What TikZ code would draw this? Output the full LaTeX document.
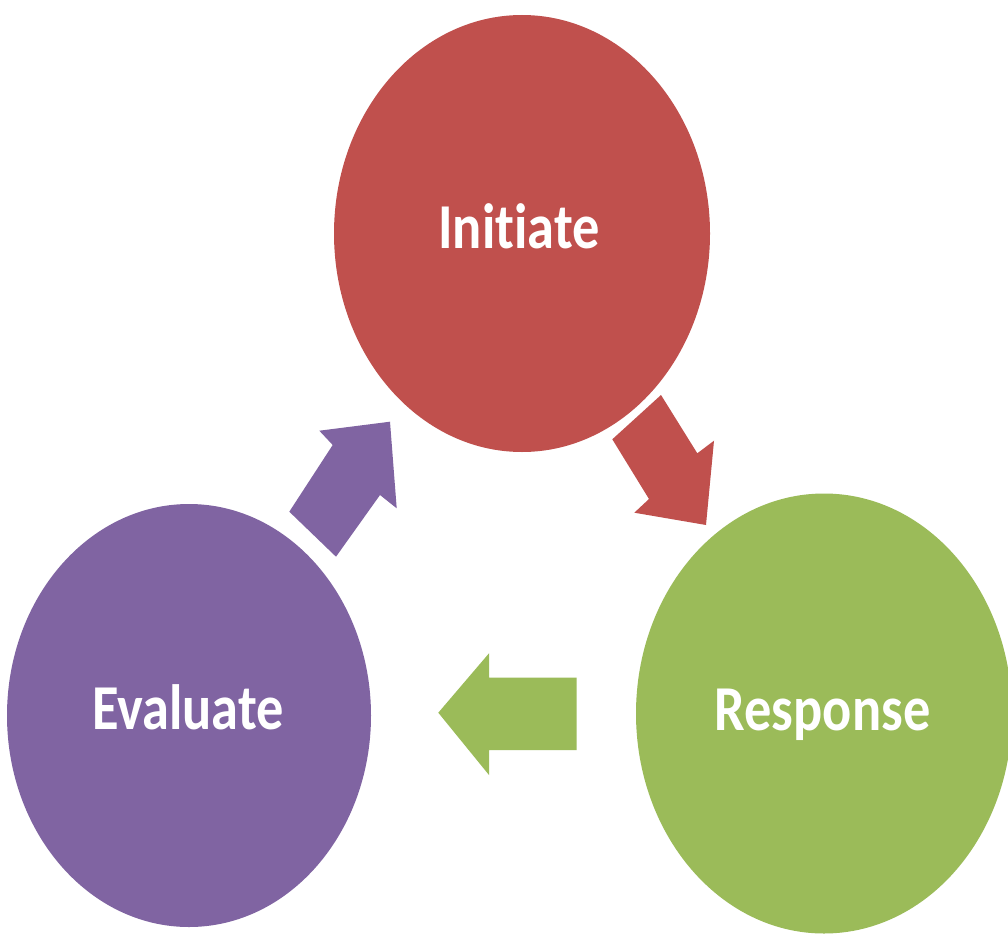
\documentclass[tikz,border=0pt]{standalone}
\usepackage{fontspec}
\usepackage{graphicx}
\setmainfont{Carlito}[Ligatures=CommonOff]
\usetikzlibrary{shapes.geometric}
\definecolor{cred}{HTML}{C0504D}
\definecolor{cpurple}{HTML}{8064A2}
\definecolor{cgreen}{HTML}{9BBB59}
\tikzset{
  blob/.style={ellipse, inner sep=0pt, draw=none},
  lbl/.style={text=white, font=\fontsize{64}{70}\selectfont\bfseries, inner sep=0pt, anchor=base},
}
\newcommand{\squeeze}[1]{\scalebox{0.85}[1]{#1}}
\begin{document}
\begin{tikzpicture}[x=1pt,y=-1pt]
\useasboundingbox (0,0) rectangle (1008,936);
\fill[white] (0,0) rectangle (1008,936);
% circles
\node[blob, fill=cred, minimum width=376pt, minimum height=437pt] (init) at (522,233.5) {};
\node[blob, fill=cpurple, minimum width=364pt, minimum height=423pt] (eval) at (189,715.5) {};
\node[blob, fill=cgreen, minimum width=376pt, minimum height=440pt] (resp) at (824,713.5) {};
% labels
\node[lbl] (tinit) at (519,248) {\squeeze{Initiate}};
\node[lbl] (teval) at (188,729) {\squeeze{Evaluate}};
\node[lbl] (tresp) at (822.5,730) {\squeeze{Response}};
% block arrows
\fill[cred] (612.3,439.3) -- (661,395) -- (697.3,453.3) -- (714,440.7) -- (706,525) -- (634.3,512.7) -- (649,499) -- cycle;
\fill[cgreen] (576.7,677.7) -- (489,677.7) -- (489,653.3) -- (438.3,712.7) -- (489,775) -- (489,750) -- (576.7,750) -- cycle;
\fill[cpurple] (289.3,511.7) -- (332.7,445) -- (319.3,430.7) -- (390,421.7) -- (396.7,508.3) -- (380,495) -- (336,556.7) -- cycle;
\end{tikzpicture}
\end{document}
